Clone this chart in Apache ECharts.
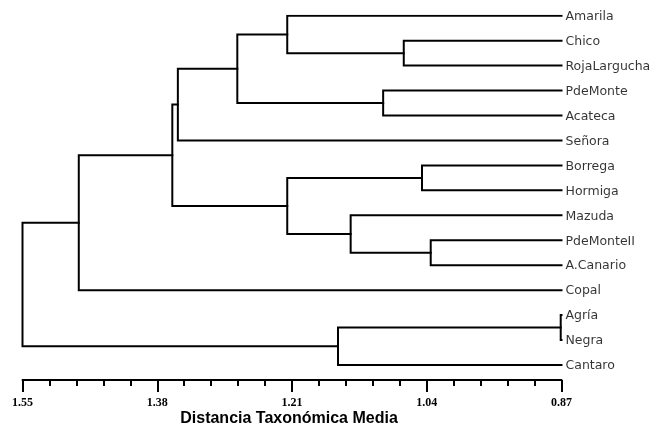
<!DOCTYPE html>
<html>
<head>
<meta charset="utf-8">
<script src="https://cdn.jsdelivr.net/npm/echarts@6/dist/echarts.min.js"></script>
<style>
  html, body { margin: 0; padding: 0; background: #fff; }
  #chart { width: 668px; height: 430px; }
</style>
</head>
<body>
<div id="chart"></div>
<script>
// leaves, top to bottom
const leaves = [
  "Amarila", "Chico", "RojaLargucha", "PdeMonte", "Acateca", "Señora",
  "Borrega", "Hormiga", "Mazuda", "PdeMonteII", "A.Canario", "Copal",
  "Agría", "Negra", "Cantaro"
];
// merges: children are leaf index (< 15) or 15 + merge index
const merges = [
  [12, 13],  // 15
  [9, 10],   // 16
  [6, 7],    // 17
  [1, 2],    // 18
  [3, 4],    // 19
  [8, 16],   // 20
  [15, 14],  // 21
  [0, 18],   // 22
  [17, 20],  // 23
  [22, 19],  // 24
  [24, 5],   // 25
  [25, 23],  // 26
  [26, 11],  // 27
  [27, 21]   // 28
];
const heights = [0.871, 1.035, 1.046, 1.069, 1.095, 1.136, 1.152, 1.216, 1.216, 1.279, 1.354, 1.361, 1.479, 1.55];
const tickMin = 0.87;
const tickMax = 1.55;
const tickStep = 0.17;

const n = leaves.length;
const posX = [];
const posY = [];
leaves.forEach((name, i) => { posX[i] = tickMin; posY[i] = i; });
const branches = merges.map(([a, b], k) => {
  const h = heights[k];
  posX[n + k] = h;
  posY[n + k] = (posY[a] + posY[b]) / 2;
  return {
    coords: [[posX[a], posY[a]], [h, posY[a]], [h, posY[b]], [posX[b], posY[b]]]
  };
});

const chart = echarts.init(document.getElementById("chart"));
chart.setOption({
  animation: false,
  backgroundColor: "#fff",
  grid: { left: 22.5, right: 106.5, top: 15.7, bottom: 50, containLabel: false, outerBoundsMode: "none" },
  xAxis: {
    type: "value",
    inverse: true,
    min: tickMin,
    max: tickMax,
    interval: tickStep,
    name: "Distancia Taxonómica Media",
    nameLocation: "middle",
    nameGap: 31,
    nameMoveOverlap: false,
    nameTextStyle: {
      fontFamily: "Liberation Sans",
      fontWeight: "bold",
      fontSize: 16,
      color: "#000",
      padding: [0, 6, 0, 0]
    },
    axisLine: { show: true, onZero: false, lineStyle: { color: "#000", width: 2 } },
    axisTick: { show: true, length: 12, lineStyle: { color: "#000", width: 2 } },
    minorTick: { show: true, splitNumber: 5, length: 6, lineStyle: { color: "#000", width: 2 } },
    axisLabel: {
      margin: 17,
      fontFamily: "Liberation Serif",
      fontWeight: "bold",
      fontSize: 12,
      color: "#000",
      formatter: (v) => v.toFixed(2)
    },
    splitLine: { show: false }
  },
  yAxis: {
    type: "value",
    inverse: true,
    min: 0,
    max: 14.6,
    show: false
  },
  series: [
    {
      type: "lines",
      coordinateSystem: "cartesian2d",
      polyline: true,
      silent: true,
      lineStyle: { color: "#000", width: 2, opacity: 1, cap: "square", join: "miter" },
      data: branches
    },
    {
      type: "scatter",
      symbolSize: 0,
      silent: true,
      data: leaves.map((name, i) => [tickMin, i, name]),
      label: {
        show: true,
        position: "right",
        distance: 4,
        offset: [0, 1],
        fontFamily: "DejaVu Sans",
        fontSize: 12.5,
        color: "#000",
        formatter: (p) => p.data[2]
      }
    }
  ]
});
window.addEventListener("resize", () => chart.resize());
</script>
</body>
</html>
